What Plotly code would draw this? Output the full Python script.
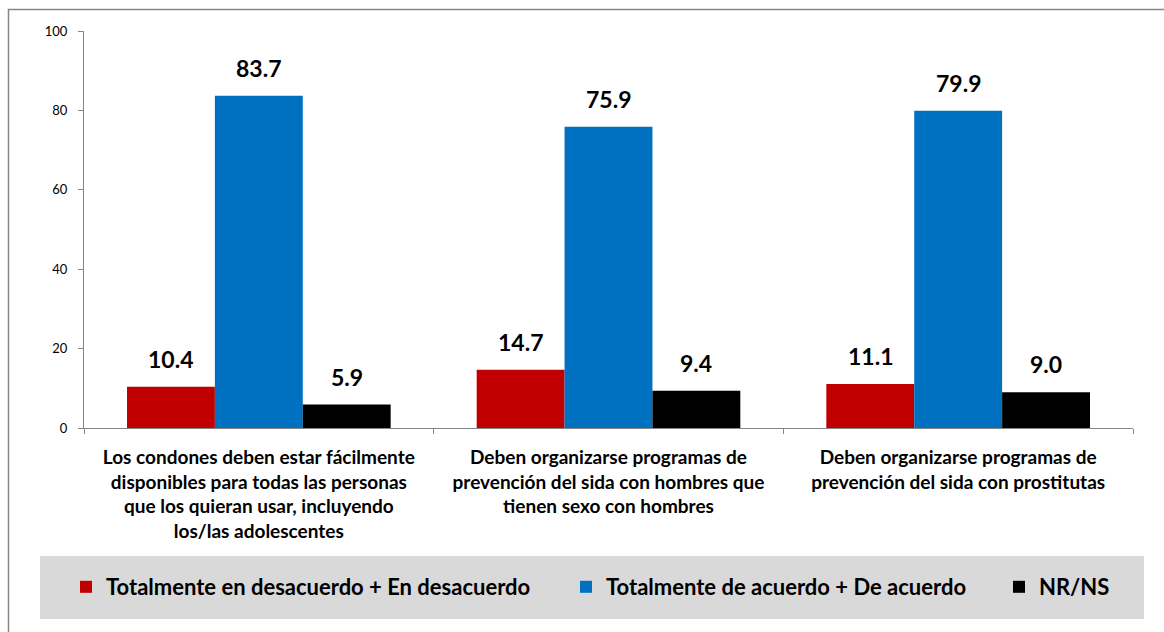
import plotly.graph_objects as go

categories = [
    "Los condones deben estar fácilmente<br>disponibles para todas las personas<br>que los quieran usar, incluyendo<br>los/las adolescentes",
    "Deben organizarse programas de<br>prevención del sida con hombres que<br>tienen sexo con hombres",
    "Deben organizarse programas de<br>prevención del sida con prostitutas",
]
series_names = [
    "Totalmente en desacuerdo + En desacuerdo",
    "Totalmente de acuerdo + De acuerdo",
    "NR/NS",
]
desacuerdo = [10.4, 14.7, 11.1]
acuerdo = [83.7, 75.9, 79.9]
nrns = [5.9, 9.4, 9.0]
colors = ["#C00000", "#0070C0", "#000000"]
y_ticks = [0, 20, 40, 60, 80, 100]

FONT = "Lato"
W, H = 1164, 632
ML, MR, MT, MB = 84, 31, 31, 204
PW = W - ML - MR
PH = H - MT - MB

def px_x(p):
    return (p - ML) / PW

def px_y(p):
    return (H - MB - p) / PH

fig = go.Figure()
values = [desacuerdo, acuerdo, nrns]
legend_ids = ["legend", "legend2", "legend3"]
for name, vals, col, lg in zip(series_names, values, colors, legend_ids):
    fig.add_trace(go.Bar(
        x=categories, y=vals, name=name, marker=dict(color=col, line=dict(width=0)),
        legend=lg,
    ))

bargap = 0.246
bar_px = PW / len(categories) * (1 - bargap) / 3
annotations = []
for si, vals in enumerate(values):
    for ci, v in enumerate(vals):
        annotations.append(dict(
            x=categories[ci], y=v, xref="x", yref="y",
            text=f"{v:.1f}", showarrow=False,
            xshift=(si - 1) * bar_px, yanchor="bottom", yshift=12,
            font=dict(family=FONT, size=23, color="#000000", weight="bold"),
        ))

shapes = [
    dict(type="rect", xref="paper", yref="paper",
         x0=px_x(8.5), x1=px_x(1200), y0=px_y(700), y1=px_y(9.5),
         line=dict(color="#868686", width=1.5), fillcolor="rgba(0,0,0,0)", layer="below"),
    dict(type="rect", xref="paper", yref="paper",
         x0=px_x(40), x1=px_x(1144), y0=px_y(619), y1=px_y(556),
         line=dict(width=0), fillcolor="#D9D9D9", layer="below"),
]

leg_common = dict(orientation="h", yanchor="middle", y=px_y(587), xanchor="left",
                  bgcolor="rgba(0,0,0,0)",
                  font=dict(family=FONT, size=22, color="#000000", weight="bold"))

fig.update_layout(
    width=W, height=H,
    margin=dict(l=ML, r=MR, t=MT, b=MB, pad=0),
    paper_bgcolor="white", plot_bgcolor="white",
    barmode="group", bargap=bargap, bargroupgap=0,
    font=dict(family=FONT, color="#000000"),
    showlegend=True,
    legend=dict(x=px_x(66), **leg_common),
    legend2=dict(x=px_x(566), **leg_common),
    legend3=dict(x=px_x(999), **leg_common),
    annotations=annotations,
    shapes=shapes,
    xaxis=dict(
        showline=True, linecolor="#868686", linewidth=1,
        ticks="outside", ticklen=5, tickcolor="#868686", tickson="boundaries",
        tickfont=dict(family=FONT, size=19, color="#000000", weight="bold"),
        ticklabelstandoff=12,
        showgrid=False,
    ),
    yaxis=dict(
        range=[0, 100], tickvals=y_ticks, ticktext=[str(t) for t in y_ticks],
        showline=True, linecolor="#868686", linewidth=1,
        ticks="outside", ticklen=5, tickcolor="#868686",
        tickfont=dict(family=FONT, size=13, color="#000000"),
        ticklabelstandoff=8,
        showgrid=False, zeroline=False,
    ),
)

fig.write_html("out.html")
